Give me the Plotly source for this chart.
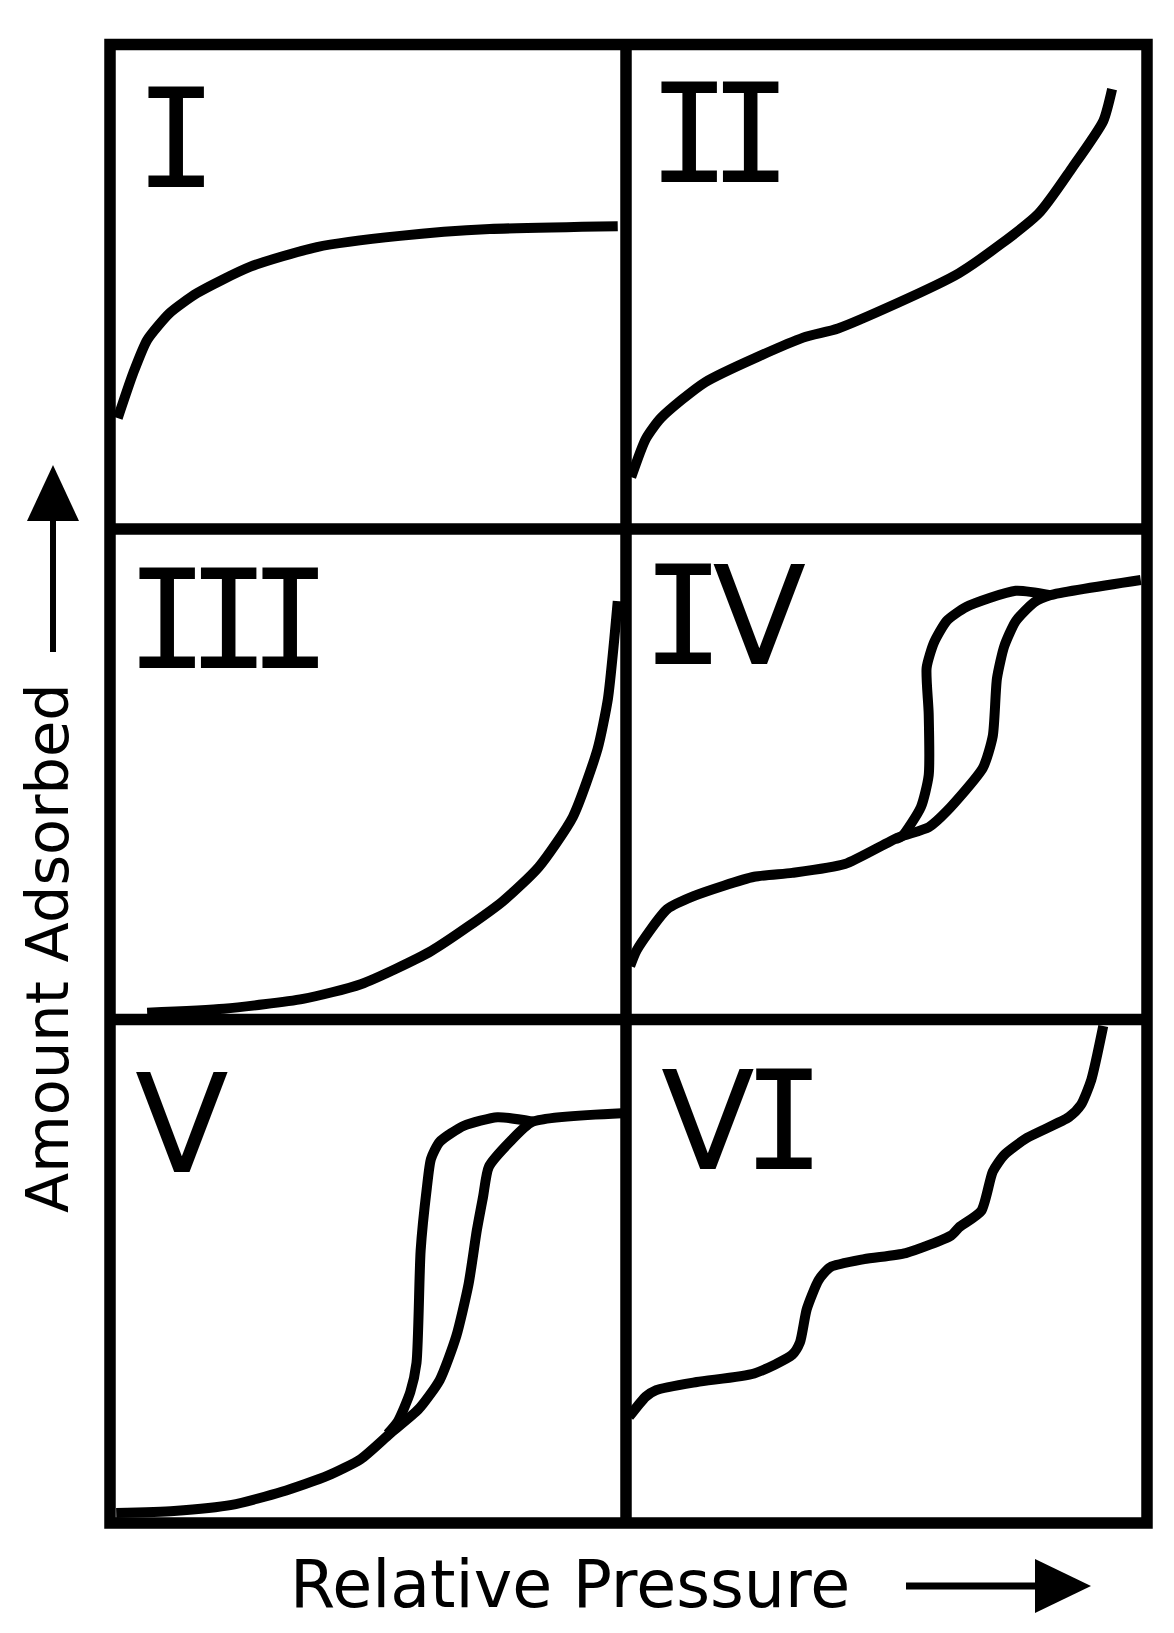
import plotly.graph_objects as go

W, H = 1174, 1633

# isotherm curves, values in % of each panel (relative pressure, amount adsorbed)
type1_x = [1.5, 4.5, 7.2, 11.6, 16.9, 27.1, 40.1, 56.2, 73.6, 98.4]
type1_y = [22.9, 32.2, 39.0, 44.6, 48.7, 54.1, 58.2, 60.5, 61.9, 62.5]

type2_x = [1.0, 3.8, 6.7, 15.2, 34.0, 40.7, 63.9, 79.1, 85.6, 91.6, 93.3]
type2_y = [10.7, 18.6, 22.9, 30.3, 39.5, 41.4, 52.8, 65.0, 74.5, 84.2, 90.8]

type3_x = [7.2, 22.1, 37.4, 48.6, 62.3, 76.0, 83.1, 89.7, 94.5, 96.5, 97.7, 98.4]
type3_y = [1.4, 2.2, 4.2, 7.2, 14.0, 24.0, 31.1, 41.3, 55.2, 65.4, 77.2, 85.3]

type4_ads_x = [0.8, 2.1, 7.9, 13.1, 24.6, 31.9, 42.0, 52.2, 58.1, 61.6, 68.5, 70.4,
               71.2, 72.6, 74.8, 78.4, 81.4, 98.8]
type4_ads_y = [10.9, 14.2, 22.5, 25.2, 29.1, 29.9, 31.7, 37.1, 39.2, 42.5, 51.3, 57.8,
               69.5, 76.1, 81.2, 85.1, 86.5, 89.6]
type4_des_x = [81.4, 74.8, 65.3, 61.6, 59.1, 57.7, 58.1, 58.1, 56.6, 53.0, 51.8]
type4_des_y = [86.5, 87.4, 84.1, 81.3, 76.8, 71.7, 62.3, 49.8, 43.3, 37.4, 36.8]

type5_ads_x = [1.2, 12.4, 23.6, 33.3, 42.2, 48.6, 54.2, 59.8, 63.9, 67.1, 69.5, 71.1,
               72.3, 73.4, 77.5, 81.9, 99.2]
type5_ads_y = [2.0, 2.4, 3.6, 6.2, 9.4, 12.7, 17.7, 22.6, 28.4, 37.1, 47.5, 58.2,
               64.8, 70.7, 75.7, 79.7, 81.4]
type5_des_x = [81.9, 75.1, 68.6, 63.9, 62.2, 61.4, 60.2, 59.4, 58.2, 55.8, 53.8]
type5_des_y = [79.7, 80.6, 78.9, 75.7, 72.3, 66.5, 54.1, 31.8, 26.0, 20.2, 17.7]

type6_x = [0.6, 3.8, 5.8, 13.6, 24.6, 31.9, 33.4, 34.7, 37.0, 39.2, 45.7, 53.7, 62.4,
           63.9, 68.2, 70.4, 72.6, 77.0, 85.0, 87.3, 89.3, 91.6]
type6_y = [21.1, 25.1, 26.4, 28.0, 29.7, 33.4, 35.9, 42.5, 48.3, 50.8, 52.4, 53.6, 57.1,
           58.7, 62.0, 69.8, 73.1, 76.5, 80.6, 83.0, 88.0, 98.7]

labels = ["I", "II", "III", "IV", "V", "VI"]
curves = [
    [(type1_x, type1_y)],
    [(type2_x, type2_y)],
    [(type3_x, type3_y)],
    [(type4_ads_x, type4_ads_y), (type4_des_x, type4_des_y)],
    [(type5_ads_x, type5_ads_y), (type5_des_x, type5_des_y)],
    [(type6_x, type6_y)],
]

# page layout in pixels
cols = [(110, 626), (626, 1147)]
rows = [(44.5, 529), (529, 1019.5), (1019.5, 1523)]
label_pos = [(176, 139), (720, 135), (228, 620), (724, 616), (182, 1124), (743, 1121)]


def px(x):
    return x / W


def py(y):
    return 1 - y / H


def numeral(lab):
    # slab-serif I from the mono face, plain V from the sans face
    out = []
    for i, ch in enumerate(lab):
        last = i == len(lab) - 1
        style = []
        if ch == "V":
            style.append("font-family:DejaVu Sans")
        if not last:
            style.append("letter-spacing:%dpx" % (-21 if lab[i + 1] == "I" and ch == "I" else -12))
        out.append(f'<span style="{";".join(style)}">{ch}</span>' if style else ch)
    return "".join(out)


fig = go.Figure()
layout = {}
for k, branches in enumerate(curves):
    c0, c1 = cols[k % 2]
    r0, r1 = rows[k // 2]
    n = "" if k == 0 else str(k + 1)
    layout["xaxis" + n] = dict(domain=[px(c0), px(c1)], range=[0, 100], visible=False,
                               anchor="y" + n, fixedrange=True)
    layout["yaxis" + n] = dict(domain=[py(r1), py(r0)], range=[0, 100], visible=False,
                               anchor="x" + n, fixedrange=True)
    for bx, by in branches:
        fig.add_trace(go.Scatter(x=bx, y=by, mode="lines", xaxis="x" + n, yaxis="y" + n,
                                 line=dict(color="black", width=10, shape="spline", smoothing=0.6),
                                 showlegend=False, hoverinfo="skip"))

fig.update_layout(**layout)

# frame and grid
frame = dict(color="black", width=11.5)
fig.add_shape(type="rect", xref="paper", yref="paper", x0=px(110), x1=px(1147),
              y0=py(1523), y1=py(44.5), line=frame)
fig.add_shape(type="line", xref="paper", yref="paper", x0=px(626), x1=px(626),
              y0=py(1523), y1=py(44.5), line=frame)
for r in (529, 1019.5):
    fig.add_shape(type="line", xref="paper", yref="paper", x0=px(110), x1=px(1147),
                  y0=py(r), y1=py(r), line=frame)

# axis arrows
fig.add_shape(type="line", xref="paper", yref="paper", x0=px(53), x1=px(53),
              y0=py(652), y1=py(515), line=dict(color="black", width=6))
fig.add_shape(type="path", xref="paper", yref="paper", fillcolor="black", line_width=0,
              path=f"M {px(53)} {py(465)} L {px(27)} {py(521)} L {px(79)} {py(521)} Z")
fig.add_shape(type="line", xref="paper", yref="paper", x0=px(906), x1=px(1040),
              y0=py(1586), y1=py(1586), line=dict(color="black", width=7))
fig.add_shape(type="path", xref="paper", yref="paper", fillcolor="black", line_width=0,
              path=f"M {px(1091)} {py(1586)} L {px(1035)} {py(1559)} L {px(1035)} {py(1613)} Z")

for lab, (lx, ly) in zip(labels, label_pos):
    fig.add_annotation(text=numeral(lab), xref="paper", yref="paper", x=px(lx), y=py(ly),
                       xanchor="center", yanchor="middle", showarrow=False,
                       font=dict(family="DejaVu Sans Mono", size=137, color="black"))

fig.add_annotation(text="Relative Pressure", xref="paper", yref="paper", x=px(570), y=py(1584),
                   xanchor="center", yanchor="middle", showarrow=False,
                   font=dict(family="DejaVu Sans", size=65, color="black"))
fig.add_annotation(text="Amount Adsorbed", xref="paper", yref="paper", x=px(48), y=py(948),
                   xanchor="center", yanchor="middle", showarrow=False, textangle=-90,
                   font=dict(family="DejaVu Sans", size=59, color="black"))

fig.update_layout(width=W, height=H, margin=dict(l=0, r=0, t=0, b=0),
                  paper_bgcolor="white", plot_bgcolor="white")
fig.write_html("out.html", config={"displayModeBar": False},
               post_script="document.body.style.margin = '0';")
